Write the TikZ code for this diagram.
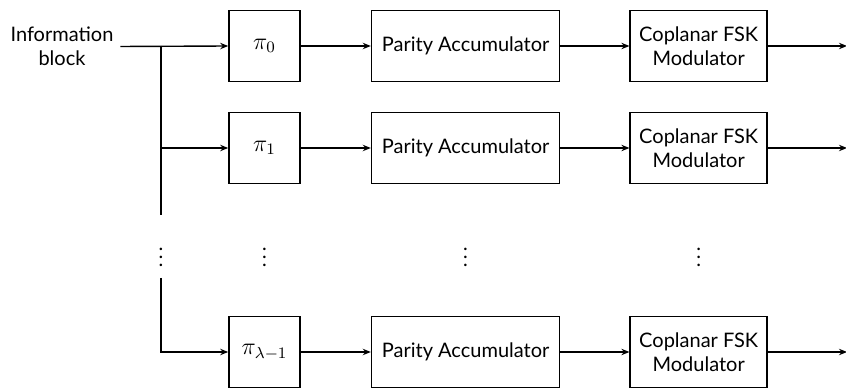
\documentclass[tikz,border=0pt]{standalone}
\usepackage{fontspec}
\setmainfont{Lato}
\usepackage{tikz}
\usetikzlibrary{positioning,arrows.meta}

\begin{document}
\begin{tikzpicture}[
        x=0.5pt, y=-0.5pt,
        % Styles
        block/.style={
            rectangle,
            draw=black,
            line width=0.8pt,
            minimum height=35.5pt,
            align=center,
            inner sep=2pt
        },
        perm/.style={block, minimum width=35.5pt, font=\large},
        accum/.style={block, minimum width=94pt},
        modbox/.style={block, minimum width=68.5pt},
        arrow/.style={
            -{Stealth[length=4pt,width=3.2pt]},
            line width=0.7pt
        },
        dots/.style={inner sep=0pt}
    ]
    \useasboundingbox (0,0) rectangle (846,389);

    % Input label
    \node[align=center] (info) at (62,46.5) {Information\\block};

    % First branch
    \node[perm] (pi0) at (264.5,46) {$\pi_0$};
    \node[accum, right=35pt of pi0] (acc0) {Parity Accumulator};
    \node[modbox, right=34.5pt of acc0] (mod0) {Coplanar FSK\\Modulator};
    \coordinate[right=39.5pt of mod0] (out0);

    % Second branch
    \node[perm] (pi1) at (264.5,148) {$\pi_1$};
    \node[accum, right=35pt of pi1] (acc1) {Parity Accumulator};
    \node[modbox, right=34.5pt of acc1] (mod1) {Coplanar FSK\\Modulator};
    \coordinate[right=39.5pt of mod1] (out1);

    % Last branch
    \node[perm] (pi2) at (264.5,352) {$\pi_{\lambda-1}$};
    \node[accum, right=35pt of pi2] (acc2) {Parity Accumulator};
    \node[modbox, right=34.5pt of acc2] (mod2) {Coplanar FSK\\Modulator};
    \coordinate[right=39.5pt of mod2] (out2);

    % Distribution bus
    \coordinate (split) at (161,46);
    \coordinate (gaptop) at (161,215);
    \coordinate (gapbot) at (161,278);

    \draw[arrow] (info.east) -- (pi0.west);
    \draw[line width=0.7pt] (split) -- (gaptop);
    \draw[arrow] (split |- pi1) -- (pi1.west);
    \draw[arrow] (gapbot) |- (pi2.west);

    % Chains
    \foreach \r in {0,1,2} {
        \draw[arrow] (pi\r) -- (acc\r);
        \draw[arrow] (acc\r) -- (mod\r);
        \draw[arrow] (mod\r) -- (out\r);
    }

    % Omitted branches
    \node[dots] (dbus) at (161,251) {$\vdots$};
    \node[dots] (dpi) at (pi0 |- dbus) {$\vdots$};
    \node[dots] (dacc) at (acc0 |- dbus) {$\vdots$};
    \node[dots] (dmod) at (mod0 |- dbus) {$\vdots$};

\end{tikzpicture}
\end{document}
